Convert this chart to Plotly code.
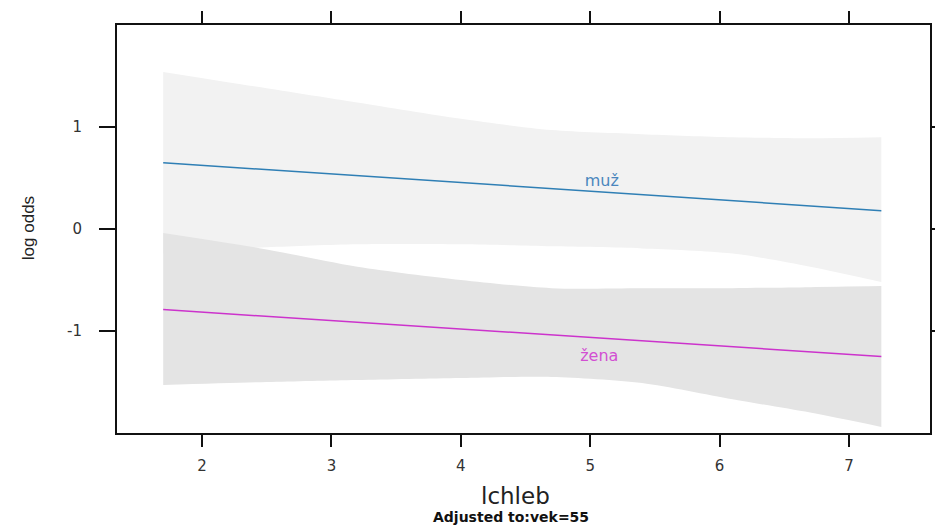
import plotly.graph_objects as go

# ---- data ----
x_grid = [1.7, 2.5, 3.2, 4.0, 4.7, 5.4, 6.1, 6.7, 7.25]

muz_upper = [1.54, 1.38, 1.24, 1.08, 0.97, 0.93, 0.90, 0.89, 0.90]
muz_lower = [-0.24, -0.18, -0.15, -0.15, -0.17, -0.19, -0.24, -0.37, -0.52]
zena_upper = [-0.04, -0.20, -0.37, -0.50, -0.58, -0.58, -0.58, -0.57, -0.56]
zena_lower = [-1.53, -1.50, -1.48, -1.46, -1.45, -1.51, -1.67, -1.80, -1.94]

line_x = [1.7, 7.25]
muz_fit = [0.65, 0.18]
zena_fit = [-0.79, -1.25]

group_labels = ["muž", "žena"]
label_x = [5.09, 5.07]
label_y = [0.46, -1.25]

x_ticks = [2, 3, 4, 5, 6, 7]
y_ticks = [-1, 0, 1]
y_tick_text = ["-1", "0", "1"]

muz_color = "#2f7fb5"
zena_color = "#cc33cc"

fig = go.Figure()


def add_band(lower, upper, color):
    fig.add_trace(go.Scatter(x=x_grid, y=lower, mode="lines",
                             line=dict(width=0, shape="spline", smoothing=0.8),
                             hoverinfo="skip", showlegend=False))
    fig.add_trace(go.Scatter(x=x_grid, y=upper, mode="lines", fill="tonexty",
                             fillcolor=color,
                             line=dict(width=0, shape="spline", smoothing=0.8),
                             hoverinfo="skip", showlegend=False))


# confidence bands (muž drawn first, žena on top)
add_band(muz_lower, muz_upper, "#f2f2f2")
add_band(zena_lower, zena_upper, "#e4e4e4")

fig.add_trace(go.Scatter(x=line_x, y=muz_fit, mode="lines",
                         line=dict(color=muz_color, width=1.5), showlegend=False))
fig.add_trace(go.Scatter(x=line_x, y=zena_fit, mode="lines",
                         line=dict(color=zena_color, width=1.5), showlegend=False))

fig.add_trace(go.Scatter(x=label_x, y=label_y, mode="text", text=group_labels,
                         textfont=dict(color=["#4a86bd", "#d24fd2"], size=16,
                                       family="DejaVu Sans"),
                         textposition="middle center", showlegend=False, hoverinfo="skip"))

axis_common = dict(showline=True, linecolor="#111111", linewidth=2, mirror="allticks",
                   ticks="outside", tickcolor="#111111", tickwidth=2,
                   showgrid=False, zeroline=False, automargin=False,
                   tickfont=dict(size=15, color="#333333", family="DejaVu Sans"))

fig.update_xaxes(range=[1.343, 7.626], tickvals=x_ticks, ticklen=12,
                 ticklabelstandoff=6, **axis_common)
fig.update_yaxes(range=[-2.0, 2.0], tickvals=y_ticks, ticktext=y_tick_text, ticklen=16,
                 ticklabelstandoff=14, **axis_common)

fig.add_annotation(text="lchleb", xref="paper", yref="paper", x=0.49, y=-0.154,
                   showarrow=False, xanchor="center", yanchor="middle",
                   font=dict(size=23, color="#222222", family="DejaVu Sans"))
fig.add_annotation(text="<b>Adjusted to:vek=55</b>", xref="paper", yref="paper",
                   x=0.485, y=-0.205, showarrow=False, xanchor="center", yanchor="middle",
                   font=dict(size=14, color="#111111", family="DejaVu Sans"))
fig.add_annotation(text="log odds", xref="paper", yref="paper", x=-0.1095, y=0.502,
                   showarrow=False, textangle=-90, xanchor="center", yanchor="middle",
                   font=dict(size=17, color="#222222", family="Liberation Sans"))

fig.update_layout(width=935, height=531, margin=dict(l=117, r=5, t=25, b=98),
                  plot_bgcolor="white", paper_bgcolor="white", showlegend=False)

fig.write_html("out.html")
